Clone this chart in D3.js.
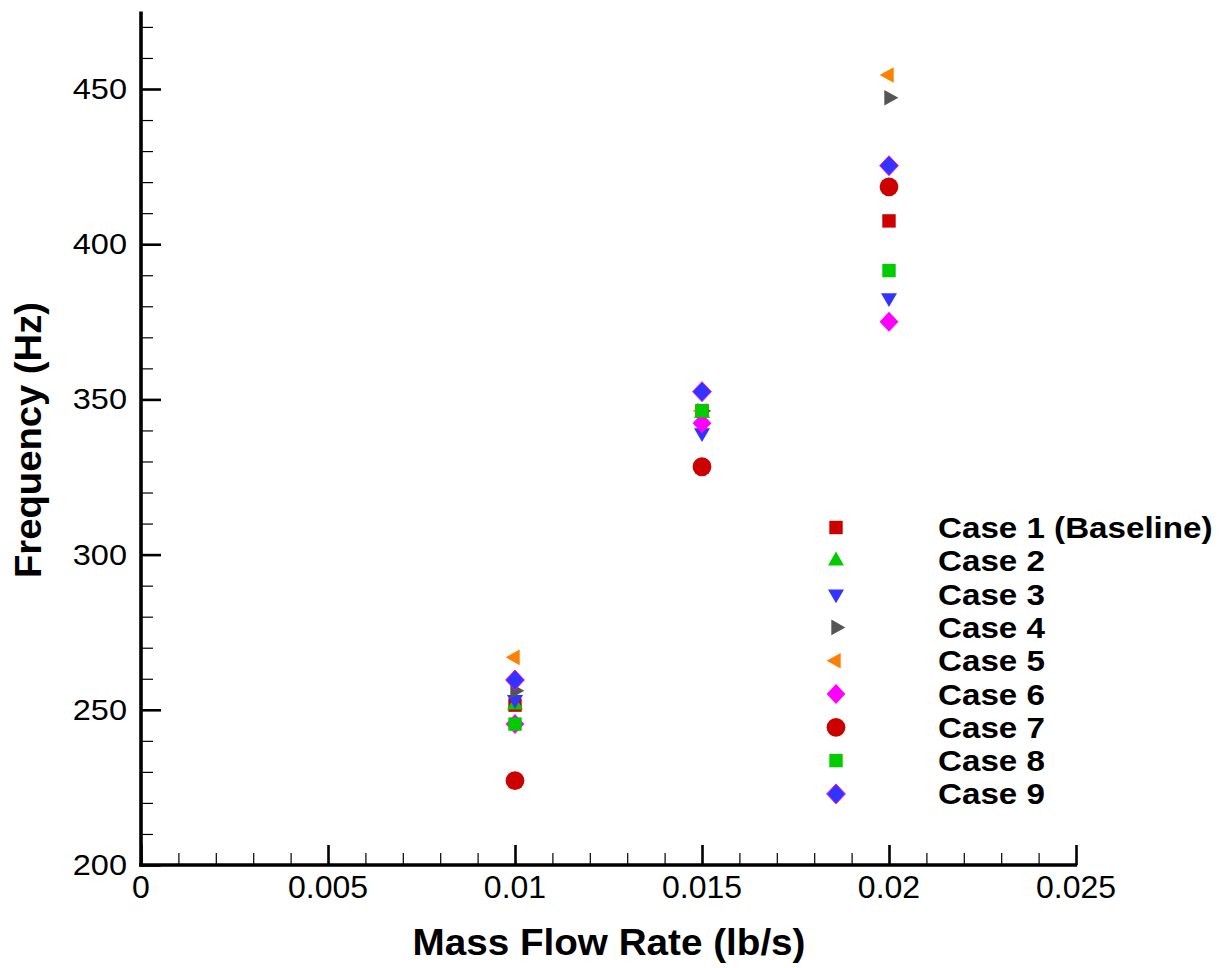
<!DOCTYPE html>
<html>
<head>
<meta charset="utf-8">
<script src="https://cdn.jsdelivr.net/npm/d3@7"></script>
<style>
  html, body { margin: 0; padding: 0; background: #fff; }
  svg { display: block; font-family: "Liberation Sans", Arial, Helvetica, sans-serif; }
</style>
</head>
<body>
<svg id="chart" width="1226" height="968"></svg>
<script>
// ---------------- data ----------------
const massFlow = [0.01, 0.015, 0.02];
const caseNames = ["Case 1 (Baseline)", "Case 2", "Case 3", "Case 4", "Case 5", "Case 6", "Case 7", "Case 8", "Case 9"];
const case1 = [251.5, 346.3, 407.5];
const case2 = [251.6, 345.5, 418.5];
const case3 = [253.3, 339.2, 382.7];
const case4 = [256.1, 346.3, 447.2];
const case5 = [266.9, 346.3, 454.5];
const case6 = [245.4, 342.3, 375.0];
const case7 = [227.2, 328.3, 418.5];
const case8 = [245.4, 346.3, 391.5];
const case9 = [259.6, 352.5, 425.3];
const seriesValues = [case1, case2, case3, case4, case5, case6, case7, case8, case9];
const xTickValues = [0, 0.005, 0.01, 0.015, 0.02, 0.025];
const xTickLabels = ["0", "0.005", "0.01", "0.015", "0.02", "0.025"];
const yTickValues = [200, 250, 300, 350, 400, 450];
const yTickLabels = ["200", "250", "300", "350", "400", "450"];
const xTitle = "Mass Flow Rate (lb/s)";
const yTitle = "Frequency (Hz)";

// ---------------- styles ----------------
const styles = [
  { shape: "square",  fill: "#cc0000", stroke: "none" },
  { shape: "up",      fill: "#00cc00", stroke: "none" },
  { shape: "down",    fill: "#3333ff", stroke: "none" },
  { shape: "right",   fill: "#555555", stroke: "none" },
  { shape: "left",    fill: "#ff8000", stroke: "none" },
  { shape: "diamond", fill: "#ff00ff", stroke: "none" },
  { shape: "circle",  fill: "#cc0000", stroke: "none" },
  { shape: "square",  fill: "#00cc00", stroke: "none" },
  { shape: "diamond", fill: "#3333ff", stroke: "#ff00ff" }
];

function shapePath(shape) {
  switch (shape) {
    case "square": { const s = 6.7; return `M${-s},${-s}H${s}V${s}H${-s}Z`; }
    case "circle": { const r = 9.4; return `M${r},0A${r},${r} 0 1,1 ${-r},0A${r},${r} 0 1,1 ${r},0Z`; }
    case "diamond": return "M0,-10L9.4,0L0,10L-9.4,0Z";
    case "up":    { const h = 13.8, b = 8; return `M0,${-2*h/3}L${b},${h/3}L${-b},${h/3}Z`; }
    case "down":  { const h = 13.8, b = 8; return `M0,${2*h/3}L${b},${-h/3}L${-b},${-h/3}Z`; }
    case "right": { const w = 14, b = 7.8; return `M${2*w/3},0L${-w/3},${b}L${-w/3},${-b}Z`; }
    case "left":  { const w = 14, b = 7.8; return `M${-2*w/3},0L${w/3},${b}L${w/3},${-b}Z`; }
  }
}

// ---------------- layout ----------------
const svg = d3.select("#chart");
const x = d3.scaleLinear().domain([0, 0.025]).range([141, 1076]);
const y = d3.scaleLinear().domain([200, 475]).range([865, 11.4]);

const axisColor = "#000";

const xMinor = d3.range(0, 26).map(i => i * 0.001).filter(v => xTickValues.every(t => Math.abs(t - v) > 1e-9));
const yMinor = d3.range(200, 476, 10).filter(v => yTickValues.indexOf(v) < 0);

const xAxisMinor = d3.axisTop(x).tickValues(xMinor).tickSize(12).tickFormat("");
const xAxisMajor = d3.axisTop(x).tickValues(xTickValues).tickSize(20).tickFormat("");
const yAxisMinor = d3.axisRight(y).tickValues(yMinor).tickSize(12).tickFormat("");
const yAxisMajor = d3.axisRight(y).tickValues(yTickValues).tickSize(20).tickFormat("");

function styleAxis(g, w) {
  g.select(".domain").remove();
  g.selectAll(".tick line").attr("stroke", axisColor).attr("stroke-width", w);
}
svg.append("g").attr("transform", "translate(0,865)").call(xAxisMinor).call(g => styleAxis(g, 1.2));
svg.append("g").attr("transform", "translate(0,865)").call(xAxisMajor).call(g => styleAxis(g, 2.6));
svg.append("g").attr("transform", "translate(141,0)").call(yAxisMinor).call(g => styleAxis(g, 1.2));
svg.append("g").attr("transform", "translate(141,0)").call(yAxisMajor).call(g => styleAxis(g, 2.6));

// axis lines
svg.append("line").attr("x1", x(0) - 1.8).attr("x2", x(0.025) + 1.2)
  .attr("y1", y(200)).attr("y2", y(200)).attr("stroke", axisColor).attr("stroke-width", 3.6);
svg.append("line").attr("x1", x(0)).attr("x2", x(0))
  .attr("y1", y(200) + 1.8).attr("y2", y(475)).attr("stroke", axisColor).attr("stroke-width", 3.6);

// tick labels
svg.append("g").selectAll("text").data(xTickValues).join("text")
  .attr("x", d => x(d)).attr("y", 898)
  .attr("text-anchor", "middle").attr("font-size", 32).attr("fill", "#000")
  .text((d, i) => xTickLabels[i]);

const yLab = svg.append("g").selectAll("text").data(yTickValues).join("text")
  .attr("x", 127).attr("y", d => y(d) + 10)
  .attr("text-anchor", "end").attr("font-size", 29).attr("fill", "#000")
  .text((d, i) => yTickLabels[i]);
yLab.each(function() {
  const L = this.getComputedTextLength();
  d3.select(this).attr("textLength", L * 1.12).attr("lengthAdjust", "spacingAndGlyphs");
});

// axis titles
svg.append("text").attr("x", 609).attr("y", 955)
  .attr("text-anchor", "middle").attr("font-size", 36).attr("font-weight", "bold")
  .attr("textLength", 393).attr("lengthAdjust", "spacingAndGlyphs")
  .text(xTitle);
svg.append("text").attr("transform", "translate(41,440) rotate(-90)")
  .attr("text-anchor", "middle").attr("font-size", 36).attr("font-weight", "bold")
  .attr("textLength", 276).attr("lengthAdjust", "spacingAndGlyphs")
  .text(yTitle);

// data markers (drawn case by case, later cases on top)
const pts = svg.append("g");
seriesValues.forEach((vals, ci) => {
  const st = styles[ci];
  pts.append("g").selectAll("path").data(vals).join("path")
    .attr("d", shapePath(st.shape))
    .attr("transform", (d, i) => `translate(${x(massFlow[i])},${y(d)})`)
    .attr("fill", st.fill)
    .attr("stroke", st.stroke).attr("stroke-width", st.stroke === "none" ? 0 : 0.9);
});

// legend
const leg = svg.append("g");
caseNames.forEach((name, i) => {
  const cy = 527.5 + i * 33.3;
  const st = styles[i];
  leg.append("path").attr("d", shapePath(st.shape))
    .attr("transform", `translate(836,${cy})`)
    .attr("fill", st.fill)
    .attr("stroke", st.stroke).attr("stroke-width", st.stroke === "none" ? 0 : 0.9);
  const t = leg.append("text").attr("x", 938).attr("y", cy + 10.5)
    .attr("font-size", 30).attr("font-weight", "bold").attr("fill", "#000")
    .text(name);
  const L = t.node().getComputedTextLength();
  t.attr("textLength", L * 1.105).attr("lengthAdjust", "spacingAndGlyphs");
});
</script>
</body>
</html>
